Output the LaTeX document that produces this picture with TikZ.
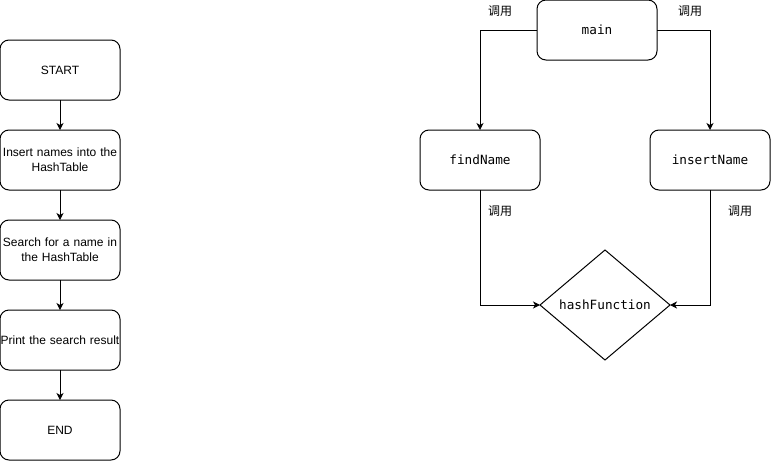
\documentclass[tikz,border=0pt]{standalone}
\usepackage{fontspec}
\setmainfont{Liberation Sans}
\newfontfamily\codefont{DejaVu Sans Mono}
\newfontfamily\cjk{Noto Sans CJK SC}
\usetikzlibrary{arrows.meta,shapes.geometric}
\begin{document}
\begin{tikzpicture}[x=1pt,y=-1pt,
  every node/.style={inner sep=0pt,outer sep=0pt},
  flowbox/.style={draw,line width=1pt,rounded corners=9pt,minimum width=120pt,minimum height=60pt,
    align=center,text width=120pt,font=\fontsize{12}{15}\selectfont},
  codebox/.style={draw,line width=1pt,rounded corners=9pt,minimum width=120pt,minimum height=60pt,
    align=center,font=\codefont\fontsize{12.7}{15}\selectfont},
  decision/.style={draw,line width=1pt,diamond,aspect=1.18,minimum width=130pt,minimum height=110pt,
    font=\codefont\fontsize{12.7}{15}\selectfont},
  link/.style={line width=1pt,-{Stealth[length=7pt,width=7pt,inset=2pt]}},
  calllabel/.style={font=\cjk\fontsize{12}{14}\selectfont}]
  \path[use as bounding box,fill=white] (0,0) rectangle (771,461);

  % main program flow
  \node[flowbox] (start)  at (60,70)  {START};
  \node[flowbox] (insert) at (60,160) {Insert names into the\\HashTable};
  \node[flowbox] (search) at (60,250) {Search for a name in\\the HashTable};
  \node[flowbox] (print)  at (60,340) {Print the search result};
  \node[flowbox] (end)    at (60,430) {END};
  \draw[link] (start) -- (insert);
  \draw[link] (insert) -- (search);
  \draw[link] (search) -- (print);
  \draw[link] (print) -- (end);

  % call graph
  \node[codebox] (main)   at (597,30)  {main};
  \node[codebox] (find)   at (480,160) {findName};
  \node[codebox] (insname) at (710,160) {insertName};
  \node[decision] (hash)  at (605,305) {hashFunction};

  \draw[link] (main.west) -| (find.north);
  \draw[link] (main.east) -| (insname.north);
  \draw[link] (find.south) |- (hash.west);
  \draw[link] (insname.south) |- (hash.east);

  \node[calllabel] (l1) at (500,11)  {调用};
  \node[calllabel] (l2) at (690,11)  {调用};
  \node[calllabel] (l3) at (500,211) {调用};
  \node[calllabel] (l4) at (740,211) {调用};
\end{tikzpicture}
\end{document}
